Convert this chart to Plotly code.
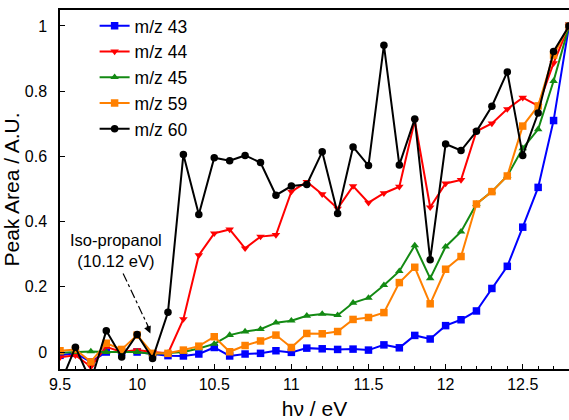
import plotly.graph_objects as go

energy = [round(9.5 + 0.1 * i, 1) for i in range(34)]

mz43 = [-0.010, -0.004, -0.030, 0.000, 0.000, 0.000, -0.006, -0.011, -0.012, -0.006,
        0.014, -0.012, -0.006, -0.004, 0.004, -0.001, 0.012, 0.010, 0.008, 0.009,
        0.006, 0.022, 0.013, 0.051, 0.040, 0.081, 0.099, 0.126, 0.195, 0.263,
        0.383, 0.505, 0.710, 1.000]
mz44 = [-0.016, -0.010, -0.045, 0.016, 0.000, 0.006, 0.000, -0.004, 0.101, 0.297,
        0.364, 0.376, 0.318, 0.354, 0.359, 0.492, 0.522, 0.484, 0.440, 0.509,
        0.458, 0.487, 0.507, 0.710, 0.444, 0.517, 0.528, 0.677, 0.701, 0.745,
        0.780, 0.755, 0.886, 1.000]
mz45 = [-0.002, 0.000, 0.002, 0.000, 0.000, 0.000, -0.006, -0.003, 0.000, 0.011,
        0.025, 0.052, 0.063, 0.070, 0.090, 0.096, 0.111, 0.117, 0.113, 0.151,
        0.166, 0.205, 0.248, 0.327, 0.226, 0.323, 0.369, 0.454, 0.492, 0.540,
        0.625, 0.683, 0.831, 1.000]
mz59 = [0.004, 0.008, -0.030, 0.027, 0.008, 0.052, -0.004, -0.004, 0.006, 0.018,
        0.047, 0.001, 0.020, 0.034, 0.052, 0.014, 0.057, 0.056, 0.063, 0.100,
        0.106, 0.121, 0.213, 0.260, 0.148, 0.254, 0.293, 0.454, 0.492, 0.540,
        0.693, 0.755, 0.911, 1.000]
mz60 = [-0.100, 0.015, -0.090, 0.065, -0.015, 0.054, -0.020, 0.122, 0.606, 0.422,
        0.596, 0.587, 0.603, 0.581, 0.481, 0.509, 0.514, 0.614, 0.425, 0.629,
        0.572, 0.941, 0.574, 0.715, 0.283, 0.638, 0.618, 0.677, 0.754, 0.859,
        0.603, 0.733, 0.922, 1.000]

series = [
    ("m/z 43", mz43, "#0000ff", "square"),
    ("m/z 44", mz44, "#ff0000", "triangle-down"),
    ("m/z 45", mz45, "#138a13", "triangle-up"),
    ("m/z 59", mz59, "#ff8000", "square"),
    ("m/z 60", mz60, "#000000", "circle"),
]

x_ticks = [9.5, 10, 10.5, 11, 11.5, 12, 12.5]
x_ticklabels = ["9.5", "10", "10.5", "11", "11.5", "12", "12.5"]
y_ticks = [0, 0.2, 0.4, 0.6, 0.8, 1]
y_ticklabels = ["0", "0.2", "0.4", "0.6", "0.8", "1"]

font_family = "Liberation Sans, Arial, sans-serif"

fig = go.Figure()
for name, vals, color, sym in series:
    fig.add_trace(go.Scatter(
        x=energy, y=vals, name=name, mode="lines+markers",
        line=dict(color=color, width=2),
        marker=dict(symbol=sym, size=7.5, color=color),
    ))

# dash-dot arrow for the annotation
fig.add_shape(type="line", xref="x", yref="y",
              x0=9.909, y0=0.241, x1=10.078, y1=0.072,
              line=dict(color="black", width=1.2, dash="dashdot"))
fig.add_annotation(x=10.086, y=0.057, ax=10.06, ay=0.085, axref="x", ayref="y",
                   xref="x", yref="y", text="", showarrow=True,
                   arrowhead=2, arrowsize=1.2, arrowwidth=1.2, arrowcolor="black")
fig.add_annotation(x=9.86, y=0.31, xref="x", yref="y",
                   text="Iso-propanol<br>(10.12 eV)", showarrow=False,
                   font=dict(family=font_family, size=16.5, color="black"))

fig.update_layout(
    width=569, height=420,
    margin=dict(l=60, r=0, t=10, b=51),
    paper_bgcolor="white", plot_bgcolor="white",
    font=dict(family=font_family, size=16, color="black"),
    showlegend=True,
    legend=dict(x=0.068, y=1.006, xanchor="left", yanchor="top",
                bgcolor="rgba(0,0,0,0)", font=dict(size=17.5, family=font_family),
                borderwidth=0),
    xaxis=dict(
        range=[9.5, 12.8], tickvals=x_ticks, ticktext=x_ticklabels,
        ticks="inside", ticklen=5, tickwidth=1, tickcolor="black",
        minor=dict(dtick=0.1, ticks="inside", ticklen=3, tickcolor="black"),
        showline=True, linecolor="black", linewidth=1.5, mirror=True,
        showgrid=False, zeroline=False,
        title=dict(text="hν / eV", font=dict(size=21), standoff=12),
        tickfont=dict(size=16),
    ),
    yaxis=dict(
        range=[-0.052, 1.049], tickvals=y_ticks, ticktext=y_ticklabels,
        ticks="inside", ticklen=5, tickwidth=1, tickcolor="black",
        showline=True, linecolor="black", linewidth=1.5,
        showgrid=False, zeroline=False,
        title=dict(text="Peak Area / A.U.", font=dict(size=21), standoff=4),
        tickfont=dict(size=16), ticklabelstandoff=8,
    ),
)

fig.write_html("out.html")
